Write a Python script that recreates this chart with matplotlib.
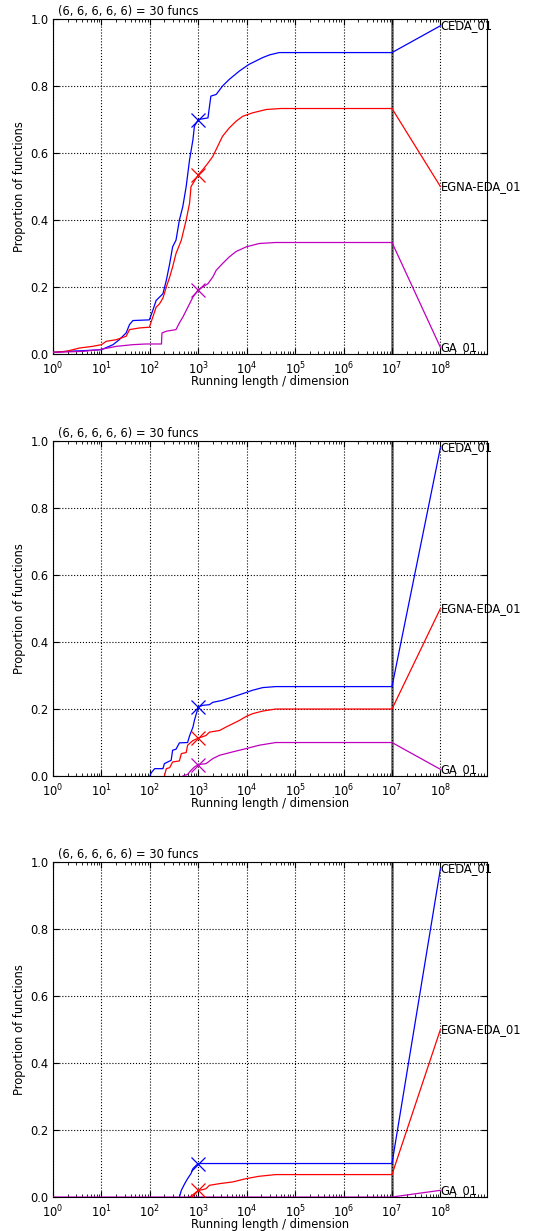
import numpy as np
import matplotlib
matplotlib.use('Agg')
import matplotlib.pyplot as plt

plt.rcParams['font.family'] = 'DejaVu Sans'
plt.rcParams['font.size'] = 8.3

title = '(6, 6, 6, 6, 6) = 30 funcs'
algs = ['CEDA_01', 'EGNA-EDA_01', 'GA_01']
colors = ['b', 'r', 'm']

# log10(running length / dimension) and proportion of functions, per panel
# panel 1
p1_ceda_lx = [0.0, 0.27, 0.62, 1.0, 1.24, 1.37, 1.51, 1.58, 1.65, 1.99, 2.06, 2.13, 2.27, 2.34,
              2.41, 2.47, 2.54, 2.61, 2.68, 2.75, 2.82, 2.89, 2.92, 3.0, 3.2, 3.26, 3.37, 3.5,
              3.64, 3.85, 4.05, 4.33, 4.47, 4.67, 7.0, 8.0]
p1_ceda_y = [0.005, 0.008, 0.01, 0.013, 0.028, 0.043, 0.063, 0.088, 0.1, 0.102, 0.13, 0.16, 0.18,
             0.22, 0.27, 0.32, 0.34, 0.40, 0.44, 0.50, 0.58, 0.64, 0.68, 0.70, 0.705, 0.77, 0.775,
             0.80, 0.82, 0.845, 0.865, 0.885, 0.893, 0.9, 0.9, 0.98]
p1_egna_lx = [0.0, 0.27, 0.55, 0.82, 1.0, 1.1, 1.31, 1.51, 1.58, 1.79, 1.99, 2.06, 2.13, 2.2,
              2.27, 2.34, 2.41, 2.47, 2.54, 2.65, 2.75, 2.82, 2.85, 3.0, 3.09, 3.2, 3.3, 3.4,
              3.5, 3.64, 3.78, 3.92, 4.12, 4.4, 4.7, 7.0, 8.0]
p1_egna_y = [0.005, 0.008, 0.018, 0.023, 0.028, 0.038, 0.043, 0.053, 0.073, 0.078, 0.08, 0.11,
             0.14, 0.15, 0.167, 0.2, 0.23, 0.26, 0.30, 0.34, 0.40, 0.45, 0.50, 0.535, 0.55, 0.57,
             0.59, 0.62, 0.65, 0.675, 0.695, 0.71, 0.72, 0.73, 0.733, 0.733, 0.5]
p1_ga_lx = [0.0, 0.62, 0.96, 1.31, 1.65, 1.92, 2.24, 2.25, 2.34, 2.54, 2.61, 2.68, 2.75, 2.82,
            2.89, 3.0, 3.09, 3.2, 3.3, 3.37, 3.5, 3.64, 3.78, 3.99, 4.26, 4.6, 7.0, 8.0]
p1_ga_y = [0.005, 0.008, 0.013, 0.023, 0.028, 0.03, 0.03, 0.063, 0.068, 0.073, 0.093, 0.11,
           0.13, 0.15, 0.17, 0.192, 0.2, 0.21, 0.23, 0.25, 0.27, 0.29, 0.306, 0.32, 0.33, 0.333,
           0.333, 0.02]

# panel 2
p2_ceda_lx = [2.0, 2.03, 2.1, 2.27, 2.3, 2.37, 2.44, 2.47, 2.54, 2.61, 2.78, 2.82, 2.89, 2.92,
              2.96, 3.0, 3.09, 3.23, 3.3, 3.5, 3.71, 3.92, 4.12, 4.33, 4.6, 7.0, 8.0]
p2_ceda_y = [0.0, 0.01, 0.022, 0.022, 0.037, 0.042, 0.047, 0.077, 0.08, 0.099, 0.1, 0.12, 0.146,
             0.166, 0.186, 0.206, 0.211, 0.213, 0.22, 0.226, 0.236, 0.246, 0.256, 0.264, 0.267,
             0.267, 0.98]
p2_egna_lx = [2.3, 2.34, 2.41, 2.47, 2.61, 2.65, 2.75, 2.78, 2.89, 3.0, 3.16, 3.23, 3.44, 3.57,
              3.71, 3.85, 3.99, 4.12, 4.33, 4.6, 7.0, 8.0]
p2_egna_y = [0.0, 0.022, 0.025, 0.042, 0.045, 0.067, 0.07, 0.092, 0.106, 0.113, 0.121, 0.131,
             0.136, 0.146, 0.156, 0.166, 0.178, 0.186, 0.194, 0.2, 0.2, 0.5]
p2_ga_lx = [2.68, 2.78, 2.85, 2.92, 3.0, 3.16, 3.3, 3.44, 3.71, 3.99, 4.26, 4.6, 7.0, 8.0]
p2_ga_y = [0.0, 0.005, 0.017, 0.027, 0.034, 0.037, 0.052, 0.062, 0.072, 0.082, 0.092, 0.1,
           0.1, 0.02]

# panel 3
p3_ceda_lx = [2.61, 2.65, 2.72, 2.78, 2.85, 2.89, 2.96, 3.0, 7.0, 8.0]
p3_ceda_y = [0.0, 0.02, 0.04, 0.055, 0.07, 0.085, 0.095, 0.1, 0.1, 0.98]
p3_egna_lx = [2.82, 2.89, 2.96, 3.0, 3.09, 3.16, 3.23, 3.44, 3.71, 3.99, 4.26, 4.6, 7.0, 8.0]
p3_egna_y = [0.0, 0.007, 0.015, 0.02, 0.022, 0.025, 0.035, 0.04, 0.045, 0.055, 0.062, 0.067,
             0.067, 0.5]
p3_ga_lx = [0.0, 7.0, 8.0]
p3_ga_y = [0.0, 0.0, 0.02]

# values at 1e3 (cross markers); None = not visible
p1_marks = [0.70, 0.535, 0.192]
p2_marks = [0.206, 0.113, 0.034]
p3_marks = [0.1, 0.02, None]

panels = [
    ([(p1_ceda_lx, p1_ceda_y), (p1_egna_lx, p1_egna_y), (p1_ga_lx, p1_ga_y)], p1_marks),
    ([(p2_ceda_lx, p2_ceda_y), (p2_egna_lx, p2_egna_y), (p2_ga_lx, p2_ga_y)], p2_marks),
    ([(p3_ceda_lx, p3_ceda_y), (p3_egna_lx, p3_egna_y), (p3_ga_lx, p3_ga_y)], p3_marks),
]
bottoms = [0.7124, 0.3696, 0.0276]

fig = plt.figure(figsize=(5.37, 12.31), dpi=100)

for (curves, marks), bot in zip(panels, bottoms):
    ax = fig.add_axes([0.0987, bot, 0.808, 0.2721])
    ax.set_xscale('log')
    ax.axvline(1e7, color='0.4', lw=1.8, zorder=1)
    for (lx, y), c, name, m in zip(curves, colors, algs, marks):
        x = 10 ** np.array(lx)
        ax.plot(x, y, color=c, lw=0.9, zorder=3)
        if m is not None:
            ax.plot(1e3, m, 'x', color=c, ms=10, mew=0.9, zorder=4)
        ax.text(1e8 * 1.02, y[-1], name, ha='left', va='center', zorder=5)
    ax.set_xlim(1, 10 ** 8.96)
    ax.set_ylim(0, 1)
    ax.set_xticks([10 ** k for k in range(9)])
    ax.set_yticks([0.0, 0.2, 0.4, 0.6, 0.8, 1.0])
    ax.set_yticklabels(['0.0', '0.2', '0.4', '0.6', '0.8', '1.0'])
    ax.grid(True, which='major', color='k', ls=':', lw=0.8)
    ax.tick_params(which='both', direction='in', top=True, right=True)
    ax.tick_params(which='major', length=4)
    ax.tick_params(axis='x', which='major', pad=4.5)
    ax.tick_params(axis='y', which='major', pad=3)
    ax.tick_params(which='minor', length=2)
    ax.set_xlabel('Running length / dimension', labelpad=-1)
    ax.set_ylabel('Proportion of functions', labelpad=3)
    ax.text(0.012, 1.003, title, transform=ax.transAxes, ha='left', va='bottom')

fig.savefig('out.png', dpi=100)
